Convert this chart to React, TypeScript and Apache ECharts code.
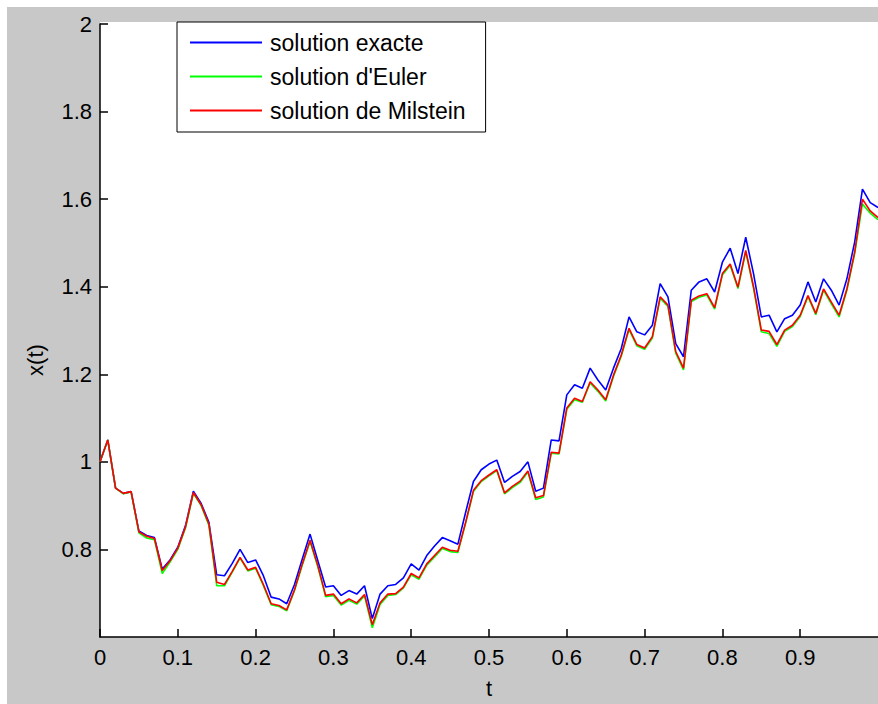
import React, { useEffect, useRef } from "react";
import * as echarts from "echarts";

const tValues: number[] = [
  0.0, 0.01, 0.02, 0.03, 0.04, 0.05, 0.06, 0.07, 0.08, 0.09,
  0.1, 0.11, 0.12, 0.13, 0.14, 0.15, 0.16, 0.17, 0.18, 0.19,
  0.2, 0.21, 0.22, 0.23, 0.24, 0.25, 0.26, 0.27, 0.28, 0.29,
  0.3, 0.31, 0.32, 0.33, 0.34, 0.35, 0.36, 0.37, 0.38, 0.39,
  0.4, 0.41, 0.42, 0.43, 0.44, 0.45, 0.46, 0.47, 0.48, 0.49,
  0.5, 0.51, 0.52, 0.53, 0.54, 0.55, 0.56, 0.57, 0.58, 0.59,
  0.6, 0.61, 0.62, 0.63, 0.64, 0.65, 0.66, 0.67, 0.68, 0.69,
  0.7, 0.71, 0.72, 0.73, 0.74, 0.75, 0.76, 0.77, 0.78, 0.79,
  0.8, 0.81, 0.82, 0.83, 0.84, 0.85, 0.86, 0.87, 0.88, 0.89,
  0.9, 0.91, 0.92, 0.93, 0.94, 0.95, 0.96, 0.97, 0.98, 0.99, 1.0,
];

const exacte: number[] = [
  1.0, 1.05, 0.94, 0.928, 0.932, 0.842, 0.832, 0.827, 0.755, 0.776,
  0.805, 0.855, 0.933, 0.905, 0.862, 0.742, 0.74, 0.768, 0.8, 0.77,
  0.776, 0.74, 0.691, 0.687, 0.676, 0.72, 0.778, 0.835, 0.774, 0.714,
  0.717, 0.695, 0.706, 0.698, 0.717, 0.642, 0.698, 0.717, 0.72, 0.735,
  0.767, 0.753, 0.786, 0.808, 0.827, 0.82, 0.812, 0.885, 0.955, 0.982,
  0.995, 1.004, 0.953, 0.967, 0.978, 1.0, 0.933, 0.94, 1.05, 1.048,
  1.153, 1.176, 1.168, 1.214, 1.187, 1.164, 1.214, 1.259, 1.331, 1.297,
  1.29, 1.312, 1.407, 1.377, 1.27, 1.24, 1.392, 1.411, 1.418, 1.388,
  1.456, 1.488, 1.43, 1.513, 1.43, 1.331, 1.335, 1.297, 1.327, 1.335,
  1.358, 1.411, 1.365, 1.418, 1.392, 1.358, 1.418, 1.502, 1.623, 1.592, 1.581,
];

const euler: number[] = [
  1.0, 1.05, 0.94, 0.927, 0.931, 0.838, 0.826, 0.822, 0.745, 0.771,
  0.8, 0.85, 0.928, 0.9, 0.855, 0.717, 0.717, 0.748, 0.78, 0.751,
  0.757, 0.717, 0.674, 0.67, 0.66, 0.706, 0.764, 0.818, 0.76, 0.692,
  0.695, 0.673, 0.684, 0.675, 0.694, 0.621, 0.674, 0.695, 0.697, 0.712,
  0.742, 0.732, 0.764, 0.783, 0.802, 0.795, 0.793, 0.86, 0.932, 0.955,
  0.968, 0.98, 0.927, 0.941, 0.953, 0.977, 0.914, 0.92, 1.02, 1.018,
  1.12, 1.142, 1.136, 1.18, 1.161, 1.139, 1.195, 1.241, 1.302, 1.265,
  1.257, 1.283, 1.374, 1.355, 1.248, 1.21, 1.366, 1.376, 1.381, 1.349,
  1.427, 1.449, 1.396, 1.48, 1.397, 1.297, 1.293, 1.264, 1.298, 1.309,
  1.332, 1.377, 1.336, 1.392, 1.361, 1.331, 1.392, 1.475, 1.589, 1.568, 1.553,
];

const milstein: number[] = [
  1.0, 1.05, 0.94, 0.928, 0.932, 0.84, 0.83, 0.825, 0.752, 0.774,
  0.803, 0.852, 0.93, 0.902, 0.858, 0.725, 0.72, 0.75, 0.782, 0.753,
  0.759, 0.72, 0.676, 0.672, 0.662, 0.708, 0.767, 0.821, 0.763, 0.695,
  0.698, 0.676, 0.687, 0.678, 0.697, 0.628, 0.678, 0.698, 0.699, 0.714,
  0.745, 0.735, 0.767, 0.786, 0.805, 0.798, 0.796, 0.862, 0.935, 0.957,
  0.97, 0.982, 0.929, 0.944, 0.956, 0.979, 0.918, 0.923, 1.022, 1.02,
  1.123, 1.145, 1.138, 1.183, 1.164, 1.142, 1.198, 1.244, 1.305, 1.268,
  1.26, 1.286, 1.377, 1.358, 1.252, 1.214, 1.369, 1.379, 1.384, 1.352,
  1.43, 1.452, 1.399, 1.483, 1.4, 1.301, 1.298, 1.268, 1.301, 1.312,
  1.335, 1.38, 1.339, 1.395, 1.365, 1.335, 1.395, 1.479, 1.6, 1.573, 1.558,
];

const seriesNames: string[] = ["solution exacte", "solution d'Euler", "solution de Milstein"];
const seriesColors: string[] = ["#0000ff", "#00ff00", "#ff0000"];
const xTicks: number[] = [0, 0.1, 0.2, 0.3, 0.4, 0.5, 0.6, 0.7, 0.8, 0.9, 1];
const yTicks: number[] = [0.6, 0.8, 1, 1.2, 1.4, 1.6, 1.8, 2];
const xTitle = "t";
const yTitle = "x(t)";

const FONT = "Arial, 'Liberation Sans', Helvetica, sans-serif";

export default function App() {
  const ref = useRef<HTMLDivElement>(null);

  useEffect(() => {
    if (!ref.current) return;
    const chart = echarts.init(ref.current, undefined, { renderer: "svg" });
    const allSeries = [exacte, euler, milstein];
    const fmt = (v: number) => String(parseFloat(v.toFixed(2)));
    chart.setOption({
      animation: false,
      backgroundColor: "#c8c8c8",
      textStyle: { fontFamily: FONT },
      grid: {
        left: 93,
        top: 17,
        right: -3.4,
        bottom: 64,
        show: true,
        backgroundColor: "#ffffff",
        borderWidth: 0,
      },
      legend: {
        orient: "vertical",
        left: 170,
        top: 15,
        padding: [9, 20, 10, 13],
        itemWidth: 72,
        itemHeight: 2,
        itemGap: 11,
        icon: "rect",
        backgroundColor: "#ffffff",
        borderColor: "#000000",
        borderWidth: 1,
        borderRadius: 0,
        data: seriesNames,
        textStyle: {
          fontFamily: FONT,
          fontSize: 23,
          lineHeight: 22,
          color: "#000000",
          padding: [0, 0, 0, 3],
        },
      },
      xAxis: {
        type: "value",
        min: xTicks[0],
        max: xTicks[xTicks.length - 1],
        interval: 0.1,
        name: xTitle,
        nameLocation: "middle",
        nameGap: 40,
        nameTextStyle: { fontFamily: FONT, fontSize: 22, color: "#000" },
        axisLine: { show: true, onZero: false, lineStyle: { color: "#000", width: 1.5 } },
        axisTick: { show: true, inside: true, length: 8, lineStyle: { color: "#000", width: 1.5 } },
        axisLabel: {
          show: true,
          margin: 9,
          fontFamily: FONT,
          fontSize: 22,
          color: "#000",
          showMaxLabel: false,
          formatter: (v: number) => fmt(v),
        },
        splitLine: { show: false },
      },
      yAxis: {
        type: "value",
        min: yTicks[0],
        max: yTicks[yTicks.length - 1],
        interval: 0.2,
        axisLine: { show: true, onZero: false, lineStyle: { color: "#000", width: 1.5 } },
        axisTick: { show: true, inside: true, length: 8, lineStyle: { color: "#000", width: 1.5 } },
        axisLabel: {
          show: true,
          margin: 8,
          fontFamily: FONT,
          fontSize: 22,
          color: "#000",
          showMinLabel: false,
          formatter: (v: number) => fmt(v),
        },
        splitLine: { show: false },
      },
      graphic: [
        {
          type: "rect",
          z: -10,
          shape: { x: 93, y: 15, width: 790, height: 3 },
          style: { fill: "#ffffff" },
        },
        {
          type: "text",
          x: 28,
          y: 353,
          rotation: Math.PI / 2,
          style: {
            text: yTitle,
            fontFamily: FONT,
            fontSize: 22,
            fill: "#000",
            align: "center",
            verticalAlign: "middle",
          },
        },
      ],
      series: allSeries.map((vals, i) => ({
        name: seriesNames[i],
        type: "line",
        data: tValues.map((t, j) => [t, vals[j]]),
        showSymbol: false,
        symbol: "none",
        color: seriesColors[i],
        lineStyle: { color: seriesColors[i], width: 1.6 },
        clip: true,
      })),
    });
    return () => chart.dispose();
  }, []);

  return (
    <div style={{ position: "fixed", left: 0, top: 0, width: 878, height: 704, background: "#ffffff", overflow: "hidden" }}>
      <div ref={ref} style={{ position: "absolute", left: 7, top: 7, width: 871, height: 697 }} />
    </div>
  );
}
